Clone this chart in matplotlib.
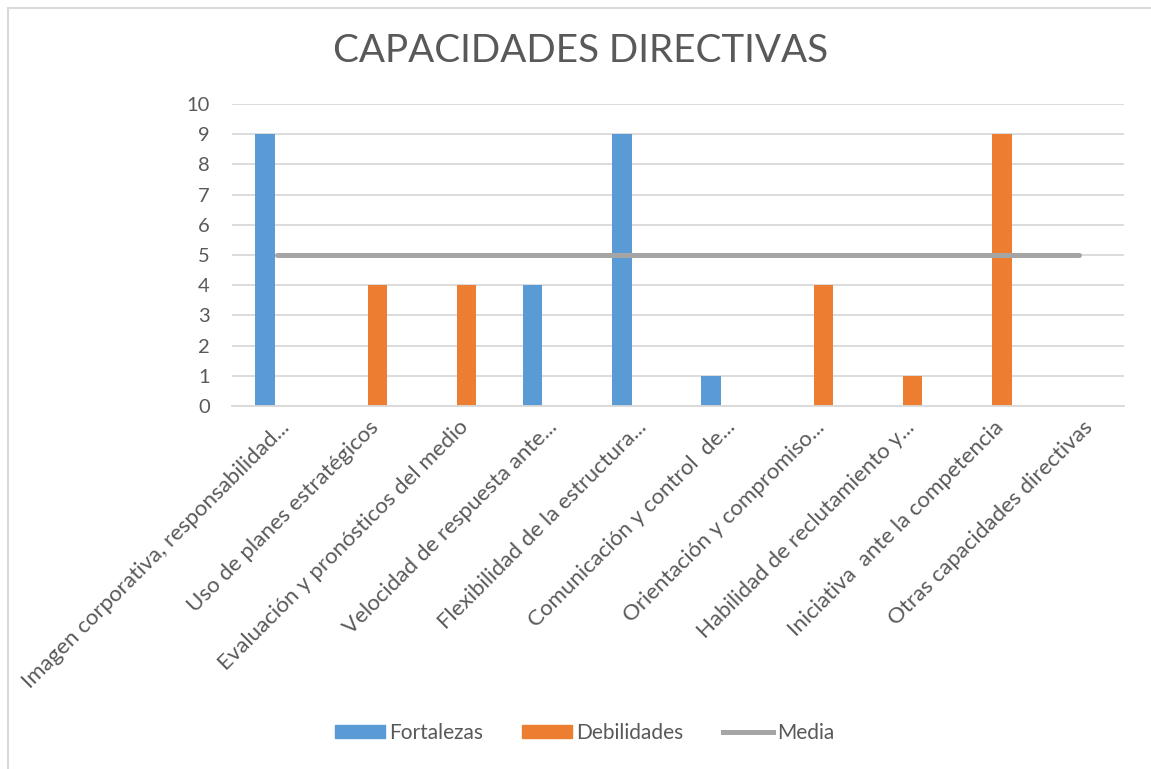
import matplotlib
matplotlib.use("Agg")
import matplotlib.pyplot as plt
import matplotlib.transforms as mtransforms
import numpy as np
from matplotlib.lines import Line2D
from matplotlib.patches import Patch

categorias = [
    "Imagen corporativa, responsabilidad...",
    "Uso de planes estratégicos",
    "Evaluación y pronósticos del medio",
    "Velocidad de respuesta ante...",
    "Flexibilidad de la estructura...",
    "Comunicación y control  de...",
    "Orientación y compromiso...",
    "Habilidad de reclutamiento y...",
    "Iniciativa  ante la competencia",
    "Otras capacidades directivas",
]
fortalezas = [9, 0, 0, 4, 9, 1, 0, 0, 0, 0]
debilidades = [0, 4, 4, 0, 0, 0, 4, 1, 9, 0]
media = [5, 5, 5, 5, 5, 5, 5, 5, 5, 5]

plt.rcParams['font.family'] = ['Lato', 'DejaVu Sans']
gris_texto = '#595959'

fig = plt.figure(figsize=(11.51, 7.69), dpi=100)
ax = fig.add_axes([0.2016, 0.472, 0.7749, 0.3928])

x = np.arange(len(categorias))
ax.bar(x - 0.13, fortalezas, width=0.22, color='#5B9BD5', zorder=2)
ax.bar(x + 0.13, debilidades, width=0.22, color='#ED7D31', zorder=2)
ax.plot(x, media, color='#A5A5A5', lw=3.6, solid_capstyle='round', zorder=3)

ax.set_xlim(-0.5, len(categorias) - 0.5)
ax.set_ylim(0, 10)
ax.set_yticks(range(0, 11))
ax.yaxis.grid(True, color='#D9D9D9', lw=1.3)
ax.set_axisbelow(True)
for s in ['top', 'right', 'left']:
    ax.spines[s].set_visible(False)
ax.spines['bottom'].set_color('#D9D9D9')
ax.spines['bottom'].set_linewidth(1.3)
ax.tick_params(axis='both', length=0, colors=gris_texto)
ax.tick_params(axis='y', pad=16, labelsize=14.5)
ax.tick_params(axis='x', pad=13, labelsize=16)
ax.set_xticks(x)
ax.set_xticklabels(categorias, rotation=45, ha='right', va='center',
                   rotation_mode='anchor')
desplaza = mtransforms.ScaledTranslation(10 / 100, 0, fig.dpi_scale_trans)
for lab in ax.get_xticklabels():
    lab.set_transform(lab.get_transform() + desplaza)

fig.text(0.504, 0.934, "CAPACIDADES DIRECTIVAS", ha='center', va='center',
         fontsize=27.8, color=gris_texto)

handles = [Patch(color='#5B9BD5'), Patch(color='#ED7D31'),
           Line2D([], [], color='#A5A5A5', lw=3.6)]
fig.legend(handles, ['Fortalezas', 'Debilidades', 'Media'], loc='center',
           bbox_to_anchor=(0.508, 0.047), ncol=3, frameon=False,
           fontsize=15, handlelength=2.4, handleheight=0.65,
           columnspacing=1.9, handletextpad=0.2, labelcolor=gris_texto)

# borde del gráfico
fig.add_artist(Line2D([0.007, 1.0], [0.9896, 0.9896], color='#D9D9D9', lw=1.5,
                      transform=fig.transFigure))
fig.add_artist(Line2D([0.007, 0.007], [0.0, 0.9896], color='#D9D9D9', lw=1.5,
                      transform=fig.transFigure))

fig.savefig('out.png', dpi=100)
